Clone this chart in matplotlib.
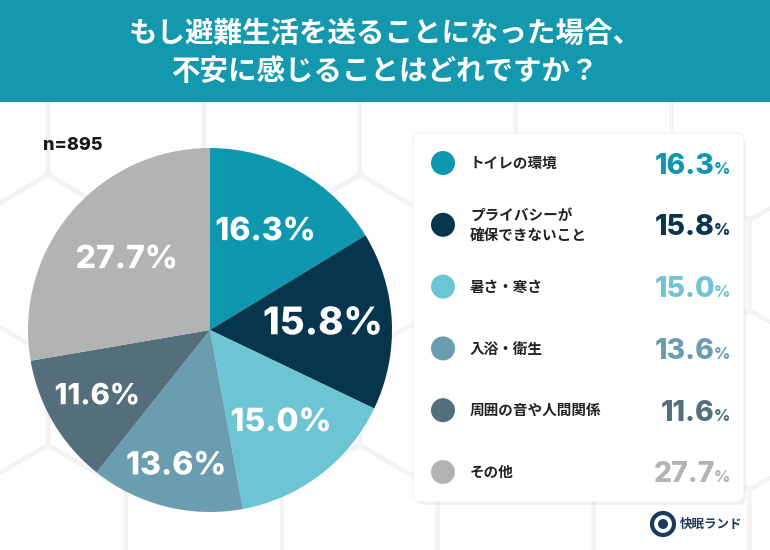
import numpy as np
import matplotlib.pyplot as plt
from matplotlib.patches import FancyBboxPatch, Rectangle, Circle, RegularPolygon
import matplotlib.patheffects as pe

# data
labels = ["トイレの環境", "プライバシーが\n確保できないこと", "暑さ・寒さ",
          "入浴・衛生", "周囲の音や人間関係", "その他"]
values = [16.3, 15.8, 15.0, 13.6, 11.6, 27.7]
colors = ["#0E97AE", "#05364D", "#6DC4D3", "#6B9DB0", "#546F7B", "#B3B3B3"]
label_dist = [0.62, 0.62, 0.64, 0.77, 0.72, 0.60]
label_size = [23, 27.5, 23, 23, 21, 23]
title = "もし避難生活を送ることになった場合、\n不安に感じることはどれですか？"
n_text = "n=895"

jp = ["Noto Sans CJK JP", "DejaVu Sans"]
num = ["Inter", "DejaVu Sans"]

fig = plt.figure(figsize=(7.7, 5.5), dpi=100)
bg = fig.add_axes([0, 0, 1, 1])
bg.set_xlim(0, 770)
bg.set_ylim(550, 0)
bg.axis("off")

# faint hexagon background
bg.add_patch(Rectangle((0, 0), 770, 550, facecolor="#f8f8f8", zorder=0))
hr = 90
for i in range(-1, 7):
    for j in range(-1, 6):
        cx = i * hr * np.sqrt(3) + (j % 2) * hr * np.sqrt(3) / 2 - 30
        cy = 130 + j * hr * 1.5
        bg.add_patch(RegularPolygon((cx, cy), 6, radius=hr - 1.5, facecolor="#fefefe",
                                    edgecolor="#efefef", lw=1, zorder=0.5))

# title banner
bg.add_patch(Rectangle((0, 0), 770, 102, facecolor="#1398AD", zorder=2))
bg.text(385, 53, title, ha="center", va="center", color="white", fontsize=20.5,
        fontweight="bold", family=jp, linespacing=1.45, zorder=3)

bg.text(43, 145, n_text, ha="left", va="center", fontsize=13, fontweight="heavy",
        family=num, color="#1a1a1a", zorder=3)

# legend box
bg.add_patch(FancyBboxPatch((416, 137), 330, 368, boxstyle="round,pad=0,rounding_size=8",
                            facecolor="#000000", alpha=0.05, edgecolor="none", zorder=2))
bg.add_patch(FancyBboxPatch((413, 133), 331, 369, boxstyle="round,pad=0,rounding_size=8",
                            facecolor="white", edgecolor="#f0f0f0", lw=0.8, zorder=3))
for k, (lab, v, c) in enumerate(zip(labels, values, colors)):
    y = 163 + k * 61.8
    bg.add_patch(Circle((443, y), 12, facecolor=c, edgecolor="none", zorder=4))
    bg.text(470, y, lab, ha="left", va="center", fontsize=10.5, fontweight="bold",
            family=jp, color="#222222", linespacing=1.3, zorder=4)
    bg.text(715, y + 10.5, f"{v:.1f}", ha="right", va="baseline", fontsize=20.5,
            fontweight="heavy", family=num, color=c, zorder=4)
    bg.text(714, y + 10.5, "%", ha="left", va="baseline", fontsize=11.5,
            fontweight="heavy", family=num, color=c, zorder=4)

# logo
bg.add_patch(Circle((663, 524), 11, facecolor="white", edgecolor="#1d3a5c", lw=3, zorder=3))
bg.add_patch(Circle((663, 524), 5, facecolor="#1d3a5c", edgecolor="none", zorder=3))
bg.text(680, 524, "快眠ランド", ha="left", va="center", fontsize=9, fontweight="bold",
        family=jp, color="#1d3a5c", zorder=3)

# pie
ax = fig.add_axes([28 / 770, 38 / 550, 364 / 770, 364 / 550])
wedges, _ = ax.pie(values, colors=colors, startangle=90, counterclock=False,
                   radius=1, wedgeprops=dict(linewidth=0))
ax.set_xlim(-1, 1)
ax.set_ylim(-1, 1)
ax.set_aspect("equal")
ax.axis("off")

for w, v, d, s in zip(wedges, values, label_dist, label_size):
    ang = np.deg2rad((w.theta1 + w.theta2) / 2)
    t = ax.text(d * np.cos(ang), d * np.sin(ang), f"{v:.1f}%", ha="center", va="center",
                color="white", fontsize=s, fontweight="heavy", family=num)
    t.set_path_effects([pe.SimpleLineShadow(offset=(1, -1.5), alpha=0.25), pe.Normal()])

fig.savefig("out.png", dpi=100)
